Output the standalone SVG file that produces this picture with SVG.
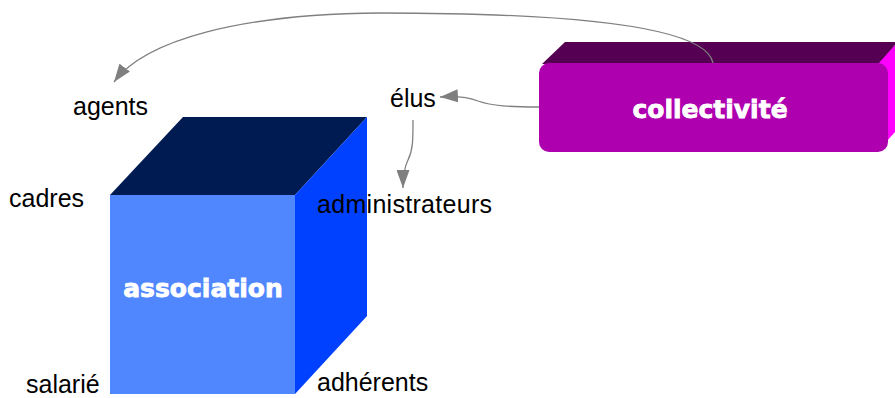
<svg xmlns="http://www.w3.org/2000/svg" width="895" height="398" viewBox="0 0 895 398">
<defs>
<marker id="arr" markerUnits="userSpaceOnUse" markerWidth="20" markerHeight="13" refX="18" refY="6.5" orient="auto">
<path d="M0,0 L18,6.5 L0,13 z" fill="#7f7f7f"/>
</marker>
<style>
.lbl{font-family:"Liberation Sans",Arial,sans-serif;font-size:25px;fill:#000}
.big{font-family:"DejaVu Sans",Verdana,sans-serif;font-weight:bold;font-size:25px;fill:#fff;stroke:#fff;stroke-width:0.8;text-anchor:middle}
.conn{fill:none;stroke:#808080;stroke-width:1.3;marker-end:url(#arr)}
</style>
</defs>
<rect width="895" height="398" fill="#fff"/>
<g id="association">
<polygon points="110,195 183,117 367,117 295,195" fill="#001a52"/>
<polygon points="295,195 367,117 367,316 295,394" fill="#0041ff"/>
<rect x="110" y="195" width="185" height="199" fill="#5087ff"/>
<text class="big" x="203" y="297">association</text>
</g>
<g id="collectivite">
<polygon points="542,64 565,42 895,42 895,45 880,64" fill="#550052"/>
<polygon points="878,64 895,45 895,132 878,151" fill="#ff00ff"/>
<rect x="539" y="63" width="349" height="89" rx="10" fill="#ae00ae"/>
<text class="big" x="710" y="118">collectivité</text>
</g>
<g id="labels">
<text class="lbl" x="73" y="115">agents</text>
<text class="lbl" x="9" y="207">cadres</text>
<text class="lbl" x="390" y="107">élus</text>
<text class="lbl" x="317" y="213" letter-spacing="0.3">administrateurs</text>
<text class="lbl" x="26" y="393">salarié</text>
<text class="lbl" x="317" y="391">adhérents</text>
</g>
<g id="connectors">
<path class="conn" d="M713,63 C705,22 540,13 380,13 C240,14 145,40 114,82"/>
<path class="conn" d="M539,107 C510,107 492,106 478,101 C468,97 455,96 440,97"/>
<path class="conn" d="M413,120 C413,140 413,150 408,160 C404,168 403,175 403,188"/>
</g>
</svg>
